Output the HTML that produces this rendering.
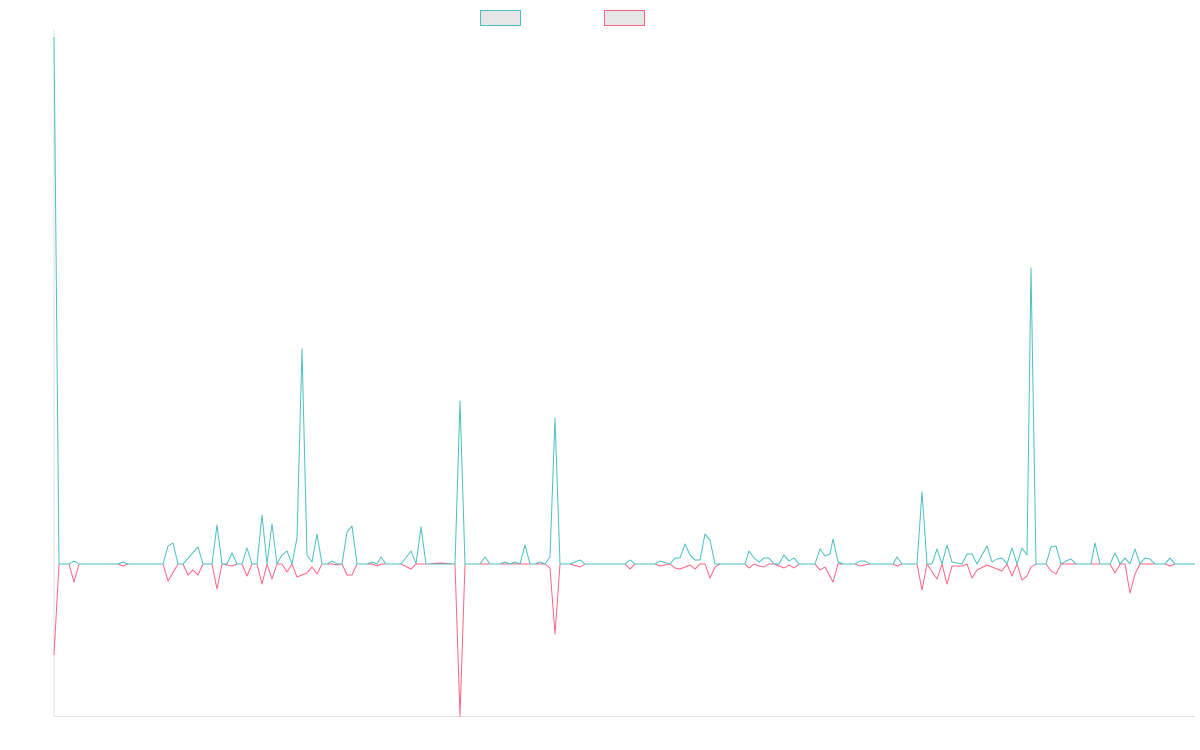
<!DOCTYPE html>
<html><head><meta charset="utf-8"><style>html,body{margin:0;padding:0;background:#fff}svg{display:block}</style></head>
<body>
<svg width="1200" height="750" xmlns="http://www.w3.org/2000/svg">
<line x1="54" y1="30" x2="54" y2="716.5" stroke="#e0e0e0" stroke-width="1"/>
<line x1="54" y1="716.5" x2="1195" y2="716.5" stroke="#e0e0e0" stroke-width="1"/>
<rect x="480.5" y="10.5" width="40" height="15" fill="#e6e6e6" stroke="#4bc0c0" stroke-width="1"/>
<rect x="604.5" y="10.5" width="40" height="15" fill="#e6e6e6" stroke="#ff6384" stroke-width="1"/>
<polyline fill="none" stroke="#ff6384" stroke-width="1" stroke-linejoin="round" points="54,655 59,564 69,564 74,582 79,564 118,564 123,566 128,564 163,564 168,581 178,564 183,564 188,575 193,570 198,575 203,564 212,564 217,589 222,564 232,566 237,564 242,564 247,576 252,564 257,564 262,584 267,564 272,579 277,564 282,564 287,572 292,564 297,577 307,573 312,567 317,574 322,564 332,564 337,565 342,564 347,575 352,575 357,564 372,564 377,566 381,564 401,564 411,569 416,564 426,564 440,563 455,564 460,716 465,564 545,564 550,568 555,634 560,564 570,564 580,567 585,564 625,564 630,569 635,564 655,564 660,566 670,564 675,568 680,569 690,565 695,569 700,564 705,564 710,578 715,567 720,564 745,564 749,568 754,564 759,566 764,567 769,564 774,564 784,568 789,565 794,568 799,564 815,564 820,570 825,567 833,582 838,564 855,564 860,566 870,564 893,564 897,566 902,564 917,564 922,590 927,564 937,579 942,564 947,584 952,566 962,566 967,564 972,578 977,570 987,565 992,567 1002,571 1007,564 1012,576 1017,564 1022,580 1027,576 1031,567 1036,564 1046,564 1051,571 1056,574 1061,564 1091,564 1100,564 1110,564 1115,573 1120,564 1125,564 1130,593 1135,574 1140,564 1165,564 1170,566 1175,564 1195,564"/>
<polyline fill="none" stroke="#4bc0c0" stroke-width="1" stroke-linejoin="round" points="54,37 59,564 69,564 74,561 79,564 118,564 123,562 128,564 163,564 168,546 173,543 178,564 183,564 198,547 203,564 212,564 217,525 222,564 227,564 232,553 237,564 242,564 247,548 252,564 257,564 262,515 267,564 272,524 277,564 282,555 287,551 292,564 297,538 302,349 307,555 312,562 317,534 322,564 327,564 332,561 337,564 342,564 347,532 352,526 357,564 367,564 372,562 377,564 381,557 386,564 401,564 411,551 416,564 421,527 426,564 455,564 460,401 465,564 480,564 485,557 490,564 500,564 505,562 510,564 515,562 520,564 525,545 530,564 535,564 540,562 545,564 550,557 555,418 560,564 570,564 580,560 585,564 625,564 630,560 635,564 655,564 660,561 670,564 675,558 680,558 685,544 690,555 695,560 700,560 705,534 710,540 715,564 745,564 749,551 754,558 759,562 764,558 769,558 774,564 779,564 784,555 789,561 794,558 799,564 815,564 820,549 825,556 830,554 833,539 838,562 843,564 855,564 860,561 865,561 870,564 893,564 897,557 902,564 917,564 922,492 927,564 932,564 937,549 942,564 947,545 952,562 962,564 967,554 972,554 977,564 987,546 992,562 997,559 1002,558 1007,564 1012,548 1017,564 1022,548 1027,555 1031,268 1036,564 1046,564 1051,547 1056,546 1061,564 1066,561 1071,559 1076,564 1091,564 1095,543 1100,564 1110,564 1115,553 1120,564 1125,558 1130,564 1135,549 1140,564 1145,558 1150,559 1155,564 1165,564 1170,558 1175,564 1195,564"/>
</svg>
</body></html>
